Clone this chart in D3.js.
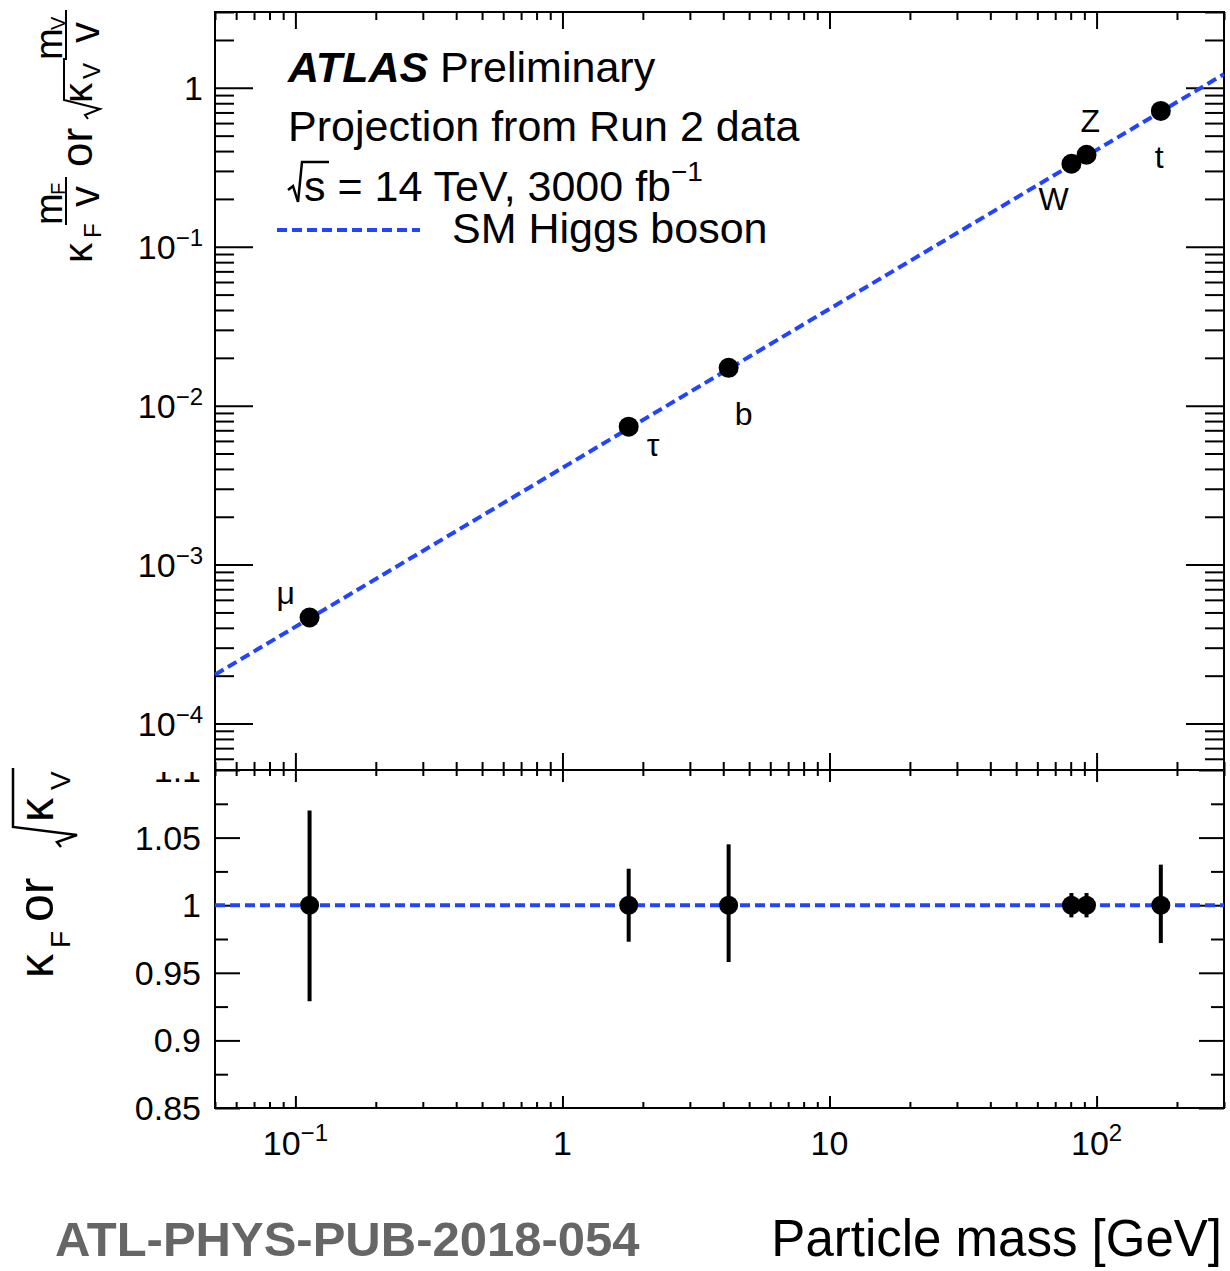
<!DOCTYPE html>
<html>
<head>
<meta charset="utf-8">
<script src="https://cdnjs.cloudflare.com/ajax/libs/d3/7.8.5/d3.min.js"></script>
<style>
  body { margin: 0; background: #fff; }
  text { font-family: "Liberation Sans", Arial, Helvetica, sans-serif; fill: #000; }
</style>
</head>
<body>
<svg id="couplingChart" width="1230" height="1271"></svg>
<script>
// ---- data ----
let particles = ["μ", "τ", "b", "W", "Z", "t"];
let masses = [0.113, 1.77, 4.19, 80.5, 91.7, 174];
let reducedCouplings = [4.65e-4, 7.38e-3, 1.73e-2, 0.333, 0.379, 0.716];
let kappas = [1, 1, 1, 1, 1, 1];
let kappaErrUp = [0.07, 0.027, 0.045, 0.009, 0.009, 0.03];
let kappaErrDown = [0.071, 0.027, 0.042, 0.009, 0.009, 0.028];

// SM expectation (straight line in log-log), end points
let smMass = [0.05, 300];
let smCoupling = [2.03e-4, 1.22];
let smRatio = [1, 1];

let upperTicks = [1e-4, 1e-3, 1e-2, 1e-1, 1];
let upperTickLabels = [["10", "−4"], ["10", "−3"], ["10", "−2"], ["10", "−1"], ["1", ""]];
let lowerTicks = [0.85, 0.9, 0.95, 1, 1.05, 1.1];
let lowerTickLabels = ["0.85", "0.9", "0.95", "1", "1.05", "1.1"];
let lowerMinorTicks = [0.875, 0.925, 0.975, 1.025, 1.075];
let massTicks = [0.1, 1, 10, 100];
let massTickLabels = [["10", "−1"], ["1", ""], ["10", ""], ["10", "2"]];

// label offsets (px) relative to each marker
let labelDx = [-33, 18, 6, -33, -6, -6];
let labelDy = [-13, 29, 57, 46, -23, 57];

let svg = d3.select("#couplingChart");
let padL = 215, padR = 1224, padT = 12, padMid = 770, padB = 1108;
let blue = "#2244ff";

let x = d3.scaleLog().domain([0.05, 300]).range([padL, padR]);
let yU = d3.scaleLog().domain([5.1e-5, 3]).range([padMid, padT]);
let yL = d3.scaleLinear().domain([0.85, 1.1]).range([padB, padMid]);

let isDecade = function (v) { return Math.abs(Math.log10(v) - Math.round(Math.log10(v))) < 1e-6; };
let xMajor = x.ticks().filter(isDecade), xMinor = x.ticks().filter(function (v) { return !isDecade(v); });
let yMajor = yU.ticks().filter(isDecade), yMinor = yU.ticks().filter(function (v) { return !isDecade(v); });

// tick helper: inward ticks, no labels
let tickAxis = function (axisFn, scale, values, size, tx, ty) {
  let g = svg.append("g")
    .attr("transform", "translate(" + tx + "," + ty + ")")
    .call(axisFn(scale).tickValues(values).tickSize(-size).tickFormat(""));
  g.select(".domain").remove();
  g.selectAll("line").attr("stroke", "#000").attr("stroke-width", 2);
};

// ---- upper panel ticks ----
tickAxis(d3.axisLeft, yU, yMajor, 38, padL, 0);
tickAxis(d3.axisLeft, yU, yMinor, 19, padL, 0);
tickAxis(d3.axisRight, yU, yMajor, 38, padR, 0);
tickAxis(d3.axisRight, yU, yMinor, 19, padR, 0);
tickAxis(d3.axisTop, x, xMajor, 17, 0, padT);
tickAxis(d3.axisTop, x, xMinor, 8, 0, padT);
tickAxis(d3.axisBottom, x, xMajor, 17, 0, padMid);
tickAxis(d3.axisBottom, x, xMinor, 8, 0, padMid);

// ---- lower panel ticks ----
tickAxis(d3.axisTop, x, xMajor, 12, 0, padMid);
tickAxis(d3.axisTop, x, xMinor, 6, 0, padMid);
tickAxis(d3.axisBottom, x, xMajor, 12, 0, padB);
tickAxis(d3.axisBottom, x, xMinor, 6, 0, padB);
tickAxis(d3.axisLeft, yL, lowerTicks, 25, padL, 0);
tickAxis(d3.axisLeft, yL, lowerMinorTicks, 13, padL, 0);
tickAxis(d3.axisRight, yL, lowerTicks, 25, padR, 0);
tickAxis(d3.axisRight, yL, lowerMinorTicks, 13, padR, 0);

// frames
svg.append("rect").attr("x", padL).attr("y", padT).attr("width", padR - padL).attr("height", padMid - padT)
  .attr("fill", "none").attr("stroke", "#000").attr("stroke-width", 2);
svg.append("rect").attr("x", padL).attr("y", padMid).attr("width", padR - padL).attr("height", padB - padMid)
  .attr("fill", "none").attr("stroke", "#000").attr("stroke-width", 2);

// ---- tick labels ----
upperTicks.forEach(function (v, i) {
  let t = svg.append("text").attr("x", 203).attr("y", yU(v) + 12).attr("text-anchor", "end").style("font-size", "34px");
  t.append("tspan").text(upperTickLabels[i][0]);
  if (upperTickLabels[i][1]) t.append("tspan").attr("dy", -13).style("font-size", "24px").text(upperTickLabels[i][1]);
});

svg.append("clipPath").attr("id", "lowerClip").append("rect").attr("x", 0).attr("y", padMid + 2).attr("width", 215).attr("height", 400);
lowerTicks.forEach(function (v, i) {
  svg.append("text").attr("x", 201).attr("y", yL(v) + 12).attr("text-anchor", "end")
    .attr("clip-path", "url(#lowerClip)")
    .style("font-size", "34px").text(lowerTickLabels[i]);
});

massTicks.forEach(function (v, i) {
  let t = svg.append("text").attr("x", x(v)).attr("y", 1155).attr("text-anchor", "middle").style("font-size", "34px");
  t.append("tspan").text(massTickLabels[i][0]);
  if (massTickLabels[i][1]) t.append("tspan").attr("dy", -14).style("font-size", "24px").text(massTickLabels[i][1]);
});

// ---- SM lines ----
let line = d3.line();
svg.append("path")
  .attr("d", line(smMass.map(function (m, i) { return [x(m), yU(smCoupling[i])]; })))
  .attr("fill", "none").attr("stroke", blue).attr("stroke-width", 4).attr("stroke-dasharray", "10,5");
svg.append("path")
  .attr("d", line(smMass.map(function (m, i) { return [x(m), yL(smRatio[i])]; })))
  .attr("fill", "none").attr("stroke", blue).attr("stroke-width", 4).attr("stroke-dasharray", "10,5");

// ---- points, upper ----
svg.append("g").selectAll("circle").data(masses).enter().append("circle")
  .attr("cx", function (d) { return x(d); })
  .attr("cy", function (d, i) { return yU(reducedCouplings[i]); })
  .attr("r", 10).attr("fill", "#000");

svg.append("g").selectAll("text").data(particles).enter().append("text")
  .attr("x", function (d, i) { return x(masses[i]) + labelDx[i]; })
  .attr("y", function (d, i) { return yU(reducedCouplings[i]) + labelDy[i]; })
  .style("font-size", function (d, i) { return i < 2 ? "32px" : "32px"; })
  .text(function (d) { return d; });

// ---- points, lower ----
svg.append("g").selectAll("line").data(masses).enter().append("line")
  .attr("x1", function (d) { return x(d); }).attr("x2", function (d) { return x(d); })
  .attr("y1", function (d, i) { return yL(kappas[i] + kappaErrUp[i]); })
  .attr("y2", function (d, i) { return yL(kappas[i] - kappaErrDown[i]); })
  .attr("stroke", "#000").attr("stroke-width", 4);
svg.append("g").selectAll("circle").data(masses).enter().append("circle")
  .attr("cx", function (d) { return x(d); })
  .attr("cy", function (d, i) { return yL(kappas[i]); })
  .attr("r", 9.5).attr("fill", "#000");

// ---- legend / labels ----
let t1 = svg.append("text").attr("x", 288).attr("y", 82).style("font-size", "43px");
t1.append("tspan").style("font-weight", "bold").style("font-style", "italic").text("ATLAS");
t1.append("tspan").text(" Preliminary");
svg.append("text").attr("x", 288).attr("y", 141).style("font-size", "43px").text("Projection from Run 2 data");
svg.append("path").attr("d", "M288,190 L293,186 L298,202 L302,162 L329,162")
  .attr("fill", "none").attr("stroke", "#000").attr("stroke-width", 2.5);
let t3 = svg.append("text").attr("x", 304).attr("y", 201).style("font-size", "43px");
t3.append("tspan").text("s = 14 TeV, 3000 fb");
t3.append("tspan").attr("dy", -20).style("font-size", "28px").text("−1");
svg.append("line").attr("x1", 277).attr("x2", 420).attr("y1", 230).attr("y2", 230)
  .attr("stroke", blue).attr("stroke-width", 4).attr("stroke-dasharray", "10,5");
svg.append("text").attr("x", 452).attr("y", 243).style("font-size", "43px").text("SM Higgs boson");

svg.append("text").attr("x", 55).attr("y", 1256).style("font-size", "49px").style("font-weight", "bold")
  .style("fill", "#666").text("ATL-PHYS-PUB-2018-054");
svg.append("text").attr("x", 1222).attr("y", 1256).attr("text-anchor", "end").style("font-size", "51px")
  .text("Particle mass [GeV]");

// ---- y title, upper: kF mF/v or sqrt(kV) mV/v ----
let yt = svg.append("g").attr("transform", "translate(92,265) rotate(-90)");
let put = function (g, str, lx, ly, size) {
  g.append("text").attr("x", lx).attr("y", ly).style("font-size", size + "px").text(str);
};
put(yt, "κ", 2, 0, 40);
put(yt, "F", 27, 9, 24);
put(yt, "m", 40, -30, 38);
put(yt, "F", 70, -27, 20);
yt.append("line").attr("x1", 40).attr("x2", 88).attr("y1", -26).attr("y2", -26).attr("stroke", "#000").attr("stroke-width", 2);
put(yt, "v", 58, 7, 42);
put(yt, "or", 98, 0, 44);
yt.append("path").attr("d", "M146,-4 L150,-7 L156,8 L165,-28 L207,-28")
  .attr("fill", "none").attr("stroke", "#000").attr("stroke-width", 2);
put(yt, "κ", 162, 0, 40);
put(yt, "V", 186, 8, 24);
put(yt, "m", 205, -30, 38);
put(yt, "V", 235, -27, 20);
yt.append("line").attr("x1", 205).attr("x2", 255).attr("y1", -26).attr("y2", -26).attr("stroke", "#000").attr("stroke-width", 2);
put(yt, "v", 222, 7, 42);

// ---- y title, lower: kF or sqrt(kV) ----
let yb = svg.append("g").attr("transform", "translate(53,980) rotate(-90)");
put(yb, "κ", 2, 0, 48);
put(yb, "F", 32, 17, 28);
put(yb, "or", 58, 0, 50);
yb.append("path").attr("d", "M133,8 L138,4 L145,24 L153,-40 L212,-40")
  .attr("fill", "none").attr("stroke", "#000").attr("stroke-width", 2.5);
put(yb, "κ", 158, 0, 48);
put(yb, "V", 190, 17, 28);
</script>
</body>
</html>
